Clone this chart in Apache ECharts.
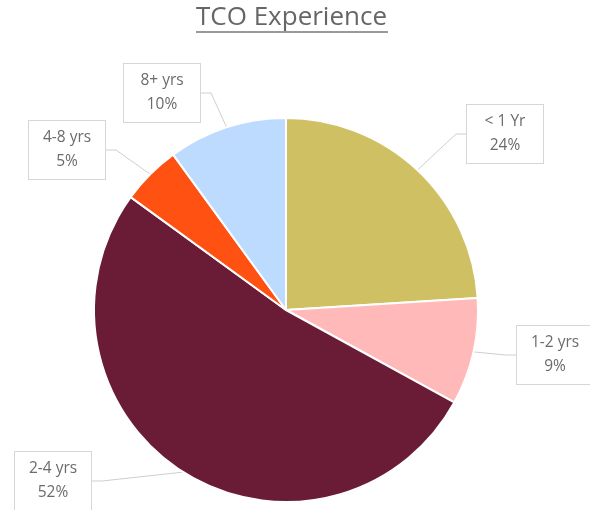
<!DOCTYPE html>
<html>
<head>
<meta charset="utf-8">
<script src="https://cdn.jsdelivr.net/npm/echarts@6/dist/echarts.min.js"></script>
<style>
  html, body { margin: 0; padding: 0; background: #fff; }
  #chart { width: 590px; height: 510px; }
</style>
</head>
<body>
<div id="chart"></div>
<script>
  const categories = ['< 1 Yr', '1-2 yrs', '2-4 yrs', '4-8 yrs', '8+ yrs'];
  const shares = [24, 9, 52, 5, 10];
  const sliceColors = ['#cfc163', '#ffb9b9', '#6a1c36', '#ff5212', '#bddbff'];

  // where each callout box sits (box centre)
  const calloutPos = [[505, 134], [555, 355], [53, 481], [67, 150], [162, 93]];

  let myChart = echarts.init(document.getElementById('chart'));
  myChart.setOption({
    backgroundColor: '#fff',
    title: {
      text: 'TCO Experience',
      left: 196,
      top: 5,
      padding: 0,
      textStyle: {
        color: '#666',
        fontFamily: 'Open Sans',
        fontWeight: 'normal',
        fontSize: 26
      }
    },
    graphic: [{
      type: 'line',
      shape: { x1: 196, y1: 32, x2: 388, y2: 32 },
      style: { stroke: '#777', lineWidth: 1.5 }
    }],
    series: [{
      type: 'pie',
      center: [286, 310],
      radius: 192,
      startAngle: 90,
      clockwise: true,
      data: categories.map((c, i) => ({
        name: c,
        value: shares[i],
        itemStyle: { color: sliceColors[i] }
      })),
      itemStyle: {
        borderColor: '#fff',
        borderWidth: 2
      },
      label: {
        show: true,
        formatter: p => p.name + '\n' + p.value + '%',
        color: '#6b6b6b',
        fontFamily: 'Open Sans',
        fontSize: 15.5,
        lineHeight: 24,
        width: 54,
        align: 'center',
        backgroundColor: '#fff',
        borderColor: '#d6d6d6',
        borderWidth: 1,
        padding: [5, 11]
      },
      labelLine: {
        show: true,
        length: 20,
        length2: 10,
        lineStyle: { color: '#cfcfcf', width: 1 }
      },
      labelLayout: function (params) {
        const p = calloutPos[params.dataIndex];
        return {
          x: p[0],
          y: p[1],
          align: 'center',
          verticalAlign: 'middle'
        };
      },
      emphasis: { disabled: true }
    }]
  });
</script>
</body>
</html>
